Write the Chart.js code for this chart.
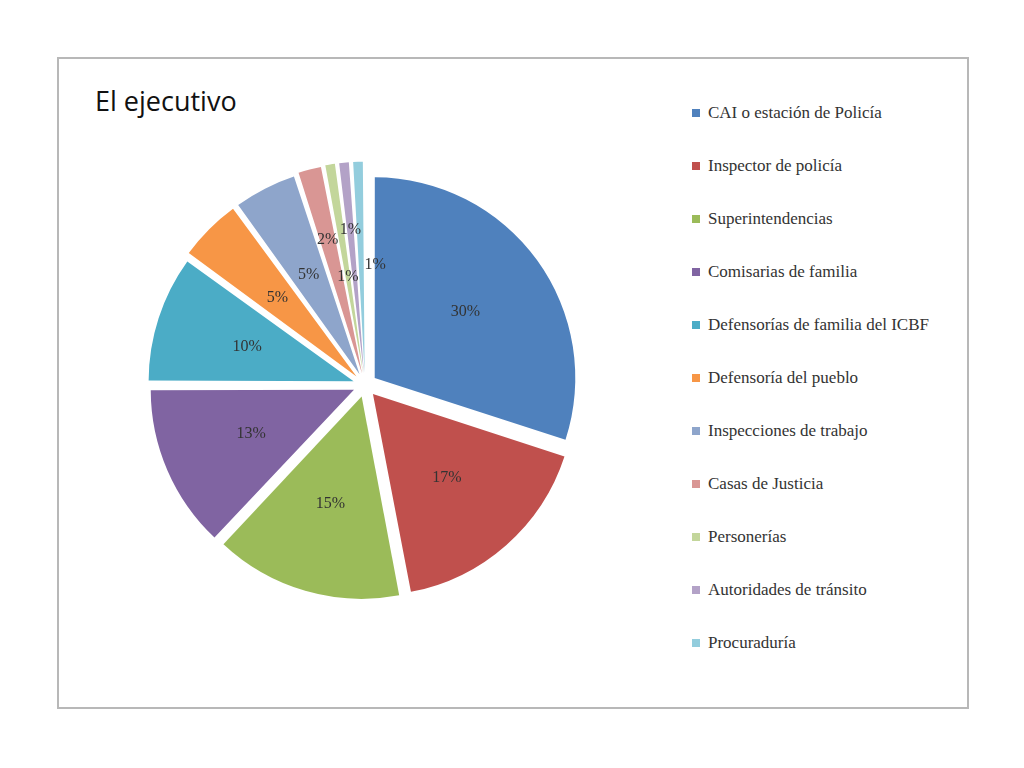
<!DOCTYPE html>
<html>
<head>
<meta charset="utf-8">
<script src="https://cdn.jsdelivr.net/npm/chart.js@4.4.0/dist/chart.umd.min.js"></script>
<style>
  body { margin: 0; width: 1024px; height: 768px; background: #fff; position: relative; overflow: hidden; }
  #frame { position: absolute; left: 57px; top: 57px; width: 912px; height: 652px; border: 2px solid #b8b8b8; box-sizing: border-box; }
  #title { position: absolute; left: 95px; top: 82px; font-family: "Open Sans", sans-serif; font-size: 27px; color: #111; }
  #chartBox { position: absolute; left: 85px; top: 125px; width: 560px; height: 520px; }
  #legend { position: absolute; left: 692px; top: 102px; width: 250px; font-family: "Liberation Serif", serif; font-size: 17px; color: #333; }
  .item { position: relative; height: 53px; padding-left: 16px; line-height: 21px; }
  .sw { position: absolute; left: 0; top: 7px; width: 8px; height: 8px; }
</style>
</head>
<body>
<div id="frame"></div>
<div id="title">El ejecutivo</div>
<div id="chartBox"><canvas id="pie"></canvas></div>
<div id="legend"></div>
<script>
const labels = ["CAI o estación de Policía", "Inspector de policía", "Superintendencias", "Comisarias de familia",
  "Defensorías de familia del ICBF", "Defensoría del pueblo", "Inspecciones de trabajo", "Casas de Justicia",
  "Personerías", "Autoridades de tránsito", "Procuraduría"];
const values = [30, 17, 15, 13, 10, 5, 5, 2, 1, 1, 1];
const colors = ["#4F81BD", "#C0504D", "#9BBB59", "#8064A2", "#4BACC6", "#F79646",
  "#8EA5CB", "#D99694", "#C3D69B", "#B3A2C7", "#93CDDD"];

// legend
const legend = document.getElementById("legend");
labels.forEach((l, i) => {
  const d = document.createElement("div");
  d.className = "item";
  d.innerHTML = '<span class="sw" style="background:' + colors[i] + '"></span>' + l;
  legend.appendChild(d);
});

// percent labels inside slices; tiny slices get staggered radii
const pctLabels = {
  id: "pctLabels",
  afterDatasetsDraw(chart) {
    const ctx = chart.ctx;
    ctx.save();
    ctx.font = "16px 'Liberation Serif', serif";
    ctx.fillStyle = "#333";
    ctx.textAlign = "center";
    ctx.textBaseline = "middle";
    const small = { 8: 0.55, 9: 0.78, 10: 0.6 };
    chart.getDatasetMeta(0).data.forEach((arc, i) => {
      const p = arc.getProps(["x", "y", "startAngle", "endAngle", "outerRadius"], true);
      const a = (p.startAngle + p.endAngle) / 2;
      const f = small[i] || (i === 7 ? 0.75 : 0.62);
      const r = p.outerRadius * f;
      const dx = i === 10 ? 14 : 0;
      ctx.fillText(values[i] + "%", p.x + Math.cos(a) * r + dx, p.y + Math.sin(a) * r);
    });
    ctx.restore();
  }
};

new Chart(document.getElementById("pie"), {
  type: "pie",
  data: {
    labels: labels,
    datasets: [{ data: values, backgroundColor: colors, borderColor: "#fff", borderWidth: 0, offset: 48 }]
  },
  options: {
    responsive: true,
    maintainAspectRatio: false,
    animation: false,
    radius: 200,
    layout: { padding: 0 },
    plugins: { legend: { display: false }, tooltip: { enabled: false } }
  },
  plugins: [pctLabels]
});
</script>
</body>
</html>
